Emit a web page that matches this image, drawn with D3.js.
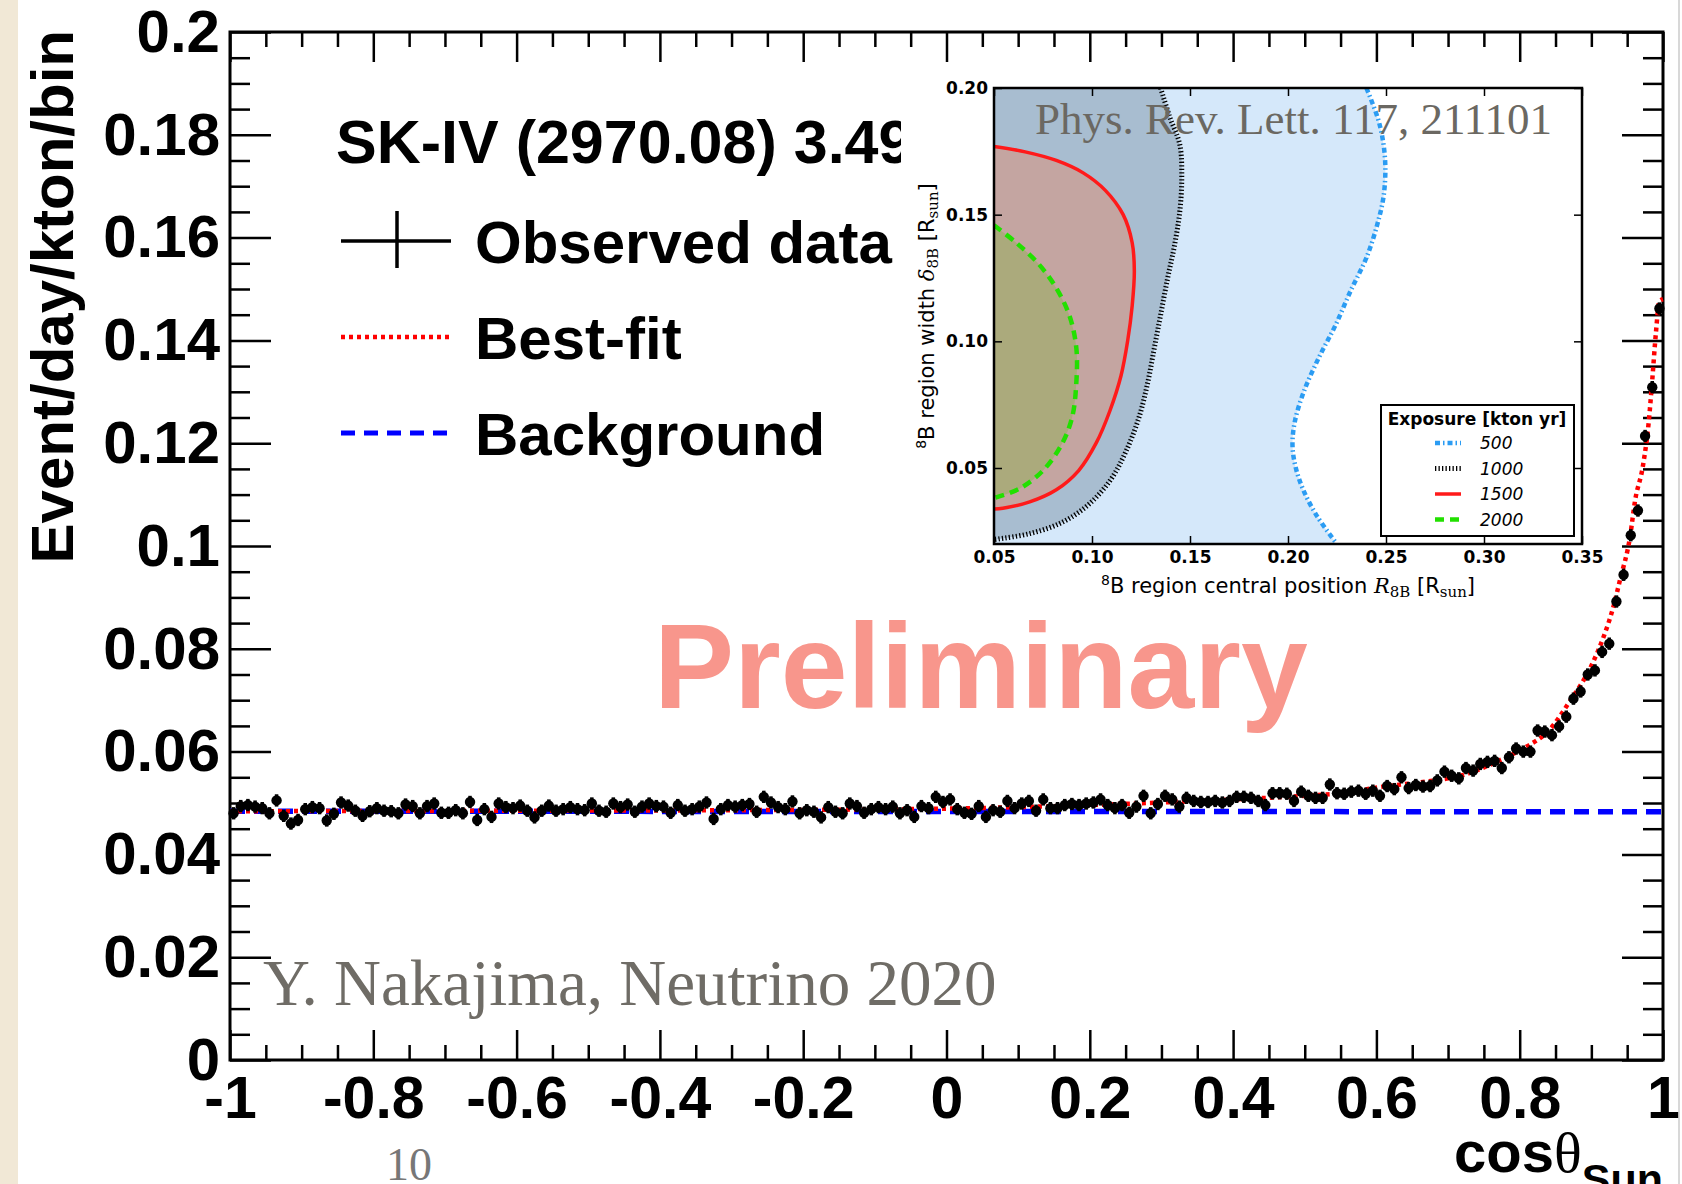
<!DOCTYPE html>
<html>
<head>
<meta charset="utf-8">
<script src="https://cdn.jsdelivr.net/npm/d3@7"></script>
<style>
body { margin: 0; background: #fff; }
</style>
</head>
<body>
<div class="chart"></div>
<script>
// event rate per 0.01 bin in cos(theta_sun), from -1 to 1
const rates = [
  0.0480, 0.0494, 0.0496, 0.0493, 0.0490, 0.0480, 0.0505, 0.0475, 0.0460, 0.0467,
  0.0488, 0.0492, 0.0490, 0.0466, 0.0479, 0.0501, 0.0495, 0.0485, 0.0475, 0.0484,
  0.0490, 0.0485, 0.0484, 0.0480, 0.0497, 0.0494, 0.0480, 0.0494, 0.0499, 0.0481,
  0.0481, 0.0486, 0.0480, 0.0502, 0.0467, 0.0488, 0.0473, 0.0499, 0.0492, 0.0490,
  0.0495, 0.0485, 0.0472, 0.0485, 0.0495, 0.0485, 0.0488, 0.0492, 0.0488, 0.0486,
  0.0499, 0.0485, 0.0483, 0.0499, 0.0492, 0.0497, 0.0483, 0.0493, 0.0499, 0.0494,
  0.0493, 0.0481, 0.0496, 0.0485, 0.0488, 0.0493, 0.0501, 0.0469, 0.0488, 0.0496,
  0.0493, 0.0496, 0.0498, 0.0483, 0.0512, 0.0501, 0.0492, 0.0488, 0.0503, 0.0480,
  0.0486, 0.0483, 0.0472, 0.0492, 0.0483, 0.0480, 0.0499, 0.0494, 0.0481, 0.0488,
  0.0492, 0.0488, 0.0493, 0.0480, 0.0486, 0.0473, 0.0494, 0.0490, 0.0512, 0.0502,
  0.0507, 0.0488, 0.0481, 0.0479, 0.0494, 0.0473, 0.0486, 0.0483, 0.0504, 0.0490,
  0.0499, 0.0504, 0.0485, 0.0507, 0.0490, 0.0490, 0.0496, 0.0498, 0.0496, 0.0499,
  0.0501, 0.0507, 0.0496, 0.0490, 0.0496, 0.0481, 0.0493, 0.0514, 0.0480, 0.0498,
  0.0514, 0.0507, 0.0493, 0.0510, 0.0504, 0.0502, 0.0502, 0.0504, 0.0501, 0.0504,
  0.0512, 0.0512, 0.0510, 0.0504, 0.0496, 0.0519, 0.0519, 0.0518, 0.0504, 0.0522,
  0.0514, 0.0510, 0.0510, 0.0536, 0.0519, 0.0518, 0.0522, 0.0524, 0.0518, 0.0524,
  0.0514, 0.0533, 0.0527, 0.0550, 0.0529, 0.0535, 0.0532, 0.0533, 0.0544, 0.0561,
  0.0553, 0.0548, 0.0568, 0.0563, 0.0576, 0.0580, 0.0582, 0.0568, 0.0589, 0.0606,
  0.0600, 0.0600, 0.0641, 0.0639, 0.0632, 0.0649, 0.0668, 0.0703, 0.0717, 0.0750,
  0.0758, 0.0794, 0.0810, 0.0892, 0.0944, 0.1021, 0.1069, 0.1214, 0.1309, 0.1462
]
const binWidth = 0.01

const bestFit = [
  [-1.0, 0.0484], [-0.6, 0.0485], [-0.3, 0.0486], [0.0, 0.0489], [0.1, 0.0492],
  [0.2, 0.0496], [0.3, 0.0501], [0.4, 0.0507], [0.5, 0.0514], [0.55, 0.0519],
  [0.61, 0.0532], [0.665, 0.0541], [0.72, 0.0554], [0.775, 0.0585], [0.81, 0.0610],
  [0.84, 0.0640], [0.87, 0.0698], [0.9, 0.0767], [0.917, 0.0823], [0.93, 0.0878],
  [0.94, 0.0934], [0.954, 0.1018], [0.961, 0.1088], [0.972, 0.1156], [0.98, 0.1240],
  [0.985, 0.1323], [0.99, 0.1413], [0.995, 0.1476], [1.0, 0.1480]
]
const background = [[-1.0, 0.0484], [1.0, 0.0483]]

const yTicks = [0, 0.02, 0.04, 0.06, 0.08, 0.1, 0.12, 0.14, 0.16, 0.18, 0.2]
const yTickLabels = ["0", "0.02", "0.04", "0.06", "0.08", "0.1", "0.12", "0.14", "0.16", "0.18", "0.2"]
const xTicks = [-1, -0.8, -0.6, -0.4, -0.2, 0, 0.2, 0.4, 0.6, 0.8, 1]
const xTickLabels = ["-1", "-0.8", "-0.6", "-0.4", "-0.2", "0", "0.2", "0.4", "0.6", "0.8", "1"]

// inset: 8B production region sensitivity contours
const insetXTicks = [0.05, 0.10, 0.15, 0.20, 0.25, 0.30, 0.35]
const insetXLabels = ["0.05", "0.10", "0.15", "0.20", "0.25", "0.30", "0.35"]
const insetYTicks = [0.05, 0.10, 0.15, 0.20]
const insetYLabels = ["0.05", "0.10", "0.15", "0.20"]
const exposures = ["500", "1000", "1500", "2000"]

const contour500 = [[0.240, 0.200], [0.2466, 0.186], [0.2495, 0.172], [0.2489, 0.158], [0.2455, 0.146],
  [0.240, 0.133], [0.232, 0.120], [0.224, 0.106], [0.216, 0.094], [0.208, 0.080], [0.2034, 0.068],
  [0.2023, 0.0587], [0.204, 0.050], [0.208, 0.041], [0.2148, 0.031], [0.224, 0.021]]
const contour1000 = [[0.135, 0.200], [0.1396, 0.1887], [0.1448, 0.1776], [0.1458, 0.165], [0.1448, 0.1513],
  [0.142, 0.1375], [0.1386, 0.125], [0.1352, 0.1112], [0.1318, 0.0974], [0.1284, 0.0836], [0.1239, 0.0698],
  [0.117, 0.056], [0.1091, 0.0449], [0.0977, 0.0352], [0.0841, 0.0283], [0.0682, 0.0241], [0.0523, 0.022], [0.05, 0.0217]]
const contour1500 = [[0.05, 0.1769], [0.0659, 0.1748], [0.0818, 0.1714], [0.0955, 0.1665], [0.1068, 0.1596],
  [0.1159, 0.15], [0.1205, 0.1389], [0.1216, 0.1278], [0.1205, 0.114], [0.1182, 0.1002], [0.1148, 0.0864],
  [0.1091, 0.0725], [0.1023, 0.0601], [0.0932, 0.049], [0.0818, 0.0414], [0.0682, 0.0366], [0.0545, 0.0341], [0.05, 0.0338]]
const contour2000 = [[0.05, 0.1458], [0.0614, 0.1389], [0.0727, 0.1306], [0.0818, 0.121], [0.0886, 0.1099],
  [0.092, 0.0974], [0.092, 0.0836], [0.0898, 0.0698], [0.0841, 0.0587], [0.075, 0.049], [0.0636, 0.0421],
  [0.0523, 0.0387], [0.05, 0.0382]]

const SANS = "'Liberation Sans', Arial, sans-serif"
const SERIF = "'Liberation Serif', 'Times New Roman', serif"
const DJ = "'DejaVu Sans', sans-serif"
const DJSERIF = "'DejaVu Serif', serif"

var width = 1682, height = 1184
var pLeft = 230, pRight = 1663, pTop = 32, pBottom = 1060

var svg = d3.select(".chart").append("svg")
    .attr("width", width)
    .attr("height", height)
    .attr("font-family", SANS)

svg.append("rect").attr("x", 0).attr("y", 0).attr("width", 18).attr("height", height).attr("fill", "#f1e8d6")
svg.append("line").attr("x1", 1679).attr("x2", 1679).attr("y1", 0).attr("y2", height)
    .attr("stroke", "#d8d8d8").attr("stroke-width", 2)

var x = d3.scaleLinear().domain([-1, 1]).range([pLeft, pRight])
var y = d3.scaleLinear().domain([0, 0.2]).range([pBottom, pTop])

var xMinor = d3.range(-1, 1.0001, 0.05).filter(v => Math.abs(Math.round(v * 5) - v * 5) > 1e-6)
var yMinor = d3.range(0, 0.2001, 0.005).filter(v => Math.abs(Math.round(v * 50) - v * 50) > 1e-6)

var styleAxis = (g, size) => {
  g.select(".domain").remove()
  g.selectAll("line").attr("stroke", "#000").attr("stroke-width", 2.5)
  g.selectAll("text").attr("font-size", size).attr("font-weight", "bold")
    .attr("font-family", SANS).attr("fill", "#000")
}

svg.append("g").attr("transform", "translate(" + pLeft + ",0)")
  .call(d3.axisLeft(y).tickValues(yTicks).tickFormat((d, i) => yTickLabels[i]).tickSize(-41).tickSizeOuter(0).tickPadding(10))
  .call(g => styleAxis(g, 60))
svg.append("g").attr("transform", "translate(" + pLeft + ",0)")
  .call(d3.axisLeft(y).tickValues(yMinor).tickFormat("").tickSize(-20).tickSizeOuter(0))
  .call(g => styleAxis(g, 0))
svg.append("g").attr("transform", "translate(" + pRight + ",0)")
  .call(d3.axisRight(y).tickValues(yTicks).tickFormat("").tickSize(-41).tickSizeOuter(0))
  .call(g => styleAxis(g, 0))
svg.append("g").attr("transform", "translate(" + pRight + ",0)")
  .call(d3.axisRight(y).tickValues(yMinor).tickFormat("").tickSize(-20).tickSizeOuter(0))
  .call(g => styleAxis(g, 0))

svg.append("g").attr("transform", "translate(0," + pBottom + ")")
  .call(d3.axisBottom(x).tickValues(xTicks).tickFormat((d, i) => xTickLabels[i]).tickSize(-30).tickSizeOuter(0).tickPadding(16))
  .call(g => styleAxis(g, 59))
svg.append("g").attr("transform", "translate(0," + pBottom + ")")
  .call(d3.axisBottom(x).tickValues(xMinor).tickFormat("").tickSize(-15).tickSizeOuter(0))
  .call(g => styleAxis(g, 0))
svg.append("g").attr("transform", "translate(0," + pTop + ")")
  .call(d3.axisTop(x).tickValues(xTicks).tickFormat("").tickSize(-30).tickSizeOuter(0))
  .call(g => styleAxis(g, 0))
svg.append("g").attr("transform", "translate(0," + pTop + ")")
  .call(d3.axisTop(x).tickValues(xMinor).tickFormat("").tickSize(-15).tickSizeOuter(0))
  .call(g => styleAxis(g, 0))

svg.append("rect")
  .attr("x", pLeft).attr("y", pTop).attr("width", pRight - pLeft).attr("height", pBottom - pTop)
  .attr("fill", "none").attr("stroke", "#000").attr("stroke-width", 3)

// axis titles
svg.append("text")
  .attr("transform", "translate(73,30) rotate(-90)")
  .attr("text-anchor", "end").attr("font-size", 60).attr("font-weight", "bold")
  .text("Event/day/kton/bin")

var xTitle = svg.append("text").attr("x", pRight).attr("y", 1172).attr("text-anchor", "end")
xTitle.append("tspan").attr("font-size", 58).attr("font-weight", "bold").text("cos")
xTitle.append("tspan").attr("font-size", 58).attr("font-family", SERIF).text("θ")
xTitle.append("tspan").attr("font-size", 43).attr("font-weight", "bold").attr("dy", 22).text("Sun")

// curves
var line = d3.line().x(d => x(d[0])).y(d => y(d[1]))

svg.append("path").datum(background)
  .attr("d", line).attr("fill", "none").attr("stroke", "#0000ff")
  .attr("stroke-width", 5.5).attr("stroke-dasharray", "15 9")

svg.append("path").datum(bestFit)
  .attr("d", line.curve(d3.curveMonotoneX)).attr("fill", "none").attr("stroke", "#ff0000")
  .attr("stroke-width", 4.5).attr("stroke-dasharray", "4 4")

var errHalf = 0.0012
var pts = svg.append("g")
pts.selectAll(".err").data(rates).enter().append("line")
  .attr("x1", (d, i) => x(-1 + binWidth * (i + 0.5)))
  .attr("x2", (d, i) => x(-1 + binWidth * (i + 0.5)))
  .attr("y1", d => y(d - errHalf))
  .attr("y2", d => y(d + errHalf))
  .attr("stroke", "#000").attr("stroke-width", 3.5)
pts.selectAll(".dot").data(rates).enter().append("circle")
  .attr("cx", (d, i) => x(-1 + binWidth * (i + 0.5)))
  .attr("cy", d => y(d))
  .attr("r", 5.2).attr("fill", "#000")

// legend
svg.append("defs").append("clipPath").attr("id", "legClip")
  .append("rect").attr("x", 0).attr("y", 0).attr("width", 901).attr("height", 300)
svg.append("text").attr("x", 336).attr("y", 163).attr("clip-path", "url(#legClip)")
  .attr("font-size", 61).attr("font-weight", "bold").text("SK-IV (2970.08) 3.49-19.49 MeV")

svg.append("line").attr("x1", 341).attr("x2", 451).attr("y1", 241).attr("y2", 241)
  .attr("stroke", "#000").attr("stroke-width", 3.5)
svg.append("line").attr("x1", 397).attr("x2", 397).attr("y1", 211).attr("y2", 268)
  .attr("stroke", "#000").attr("stroke-width", 3.5)
svg.append("line").attr("x1", 341).attr("x2", 451).attr("y1", 337).attr("y2", 337)
  .attr("stroke", "#ff0000").attr("stroke-width", 4.5).attr("stroke-dasharray", "4 4")
svg.append("line").attr("x1", 341).attr("x2", 449).attr("y1", 433).attr("y2", 433)
  .attr("stroke", "#0000ff").attr("stroke-width", 5).attr("stroke-dasharray", "14 9")

svg.selectAll(".legtxt").data(["Observed data", "Best-fit", "Background"]).enter().append("text")
  .attr("x", 475).attr("y", (d, i) => 263 + i * 96)
  .attr("font-size", 60).attr("font-weight", "bold").text(d => d)

// watermark texts
svg.append("text").attr("x", 654).attr("y", 708)
  .attr("font-size", 120).attr("font-weight", "bold").attr("fill", "#f8968c").text("Preliminary")
svg.append("text").attr("x", 263).attr("y", 1005)
  .attr("font-family", SERIF).attr("font-size", 65).attr("fill", "#6f6c66")
  .text("Y. Nakajima, Neutrino 2020")
svg.append("text").attr("x", 386).attr("y", 1180)
  .attr("font-family", SERIF).attr("font-size", 46).attr("fill", "#777")
  .text("10")

// ---- inset ----
var iL = 994, iR = 1582, iT = 88, iB = 544
var ix = d3.scaleLinear().domain([0.05, 0.35]).range([iL, iR])
var iy = d3.scaleLinear().domain([0.02, 0.20]).range([iB, iT])

var inset = svg.append("g")
inset.append("defs").append("clipPath").attr("id", "insetClip")
  .append("rect").attr("x", iL).attr("y", iT).attr("width", iR - iL).attr("height", iB - iT)

var cLine = d3.line().x(d => ix(d[0])).y(d => iy(d[1])).curve(d3.curveCatmullRom)
var pt = (a, b) => ix(a) + "," + iy(b)

var plot = inset.append("g").attr("clip-path", "url(#insetClip)")
var last500 = contour500[contour500.length - 1]
plot.append("path")
  .attr("d", "M" + pt(0.05, 0.02) + "L" + pt(0.05, 0.20) + "L" + cLine(contour500).slice(1) + "L" + pt(last500[0], 0.02) + "Z")
  .attr("fill", "#d5e8fa")
plot.append("path")
  .attr("d", "M" + pt(0.05, 0.20) + "L" + cLine(contour1000).slice(1) + "Z")
  .attr("fill", "#a8bdd0")
plot.append("path").attr("d", cLine(contour1500) + "Z").attr("fill", "#c4a5a1")
plot.append("path").attr("d", cLine(contour2000) + "Z").attr("fill", "#abaa7c")

var contourStyles = [
  { data: contour500, color: "#2b9cf3", w: 4.5, dash: "5 3 1.5 3" },
  { data: contour1000, color: "#000", w: 5, dash: "1.3 2.2" },
  { data: contour1500, color: "#ff1a1a", w: 3.5, dash: null },
  { data: contour2000, color: "#22e000", w: 4.5, dash: "9 6" }
]
contourStyles.forEach(s => {
  plot.append("path").attr("d", cLine(s.data)).attr("fill", "none")
    .attr("stroke", s.color).attr("stroke-width", s.w).attr("stroke-dasharray", s.dash)
})

var styleInset = g => {
  g.select(".domain").remove()
  g.selectAll("line").attr("stroke", "#000").attr("stroke-width", 1.5)
  g.selectAll("text").attr("font-size", 17).attr("font-weight", "bold")
    .attr("font-family", DJ).attr("fill", "#000")
}
inset.append("g").attr("transform", "translate(0," + iB + ")")
  .call(d3.axisBottom(ix).tickValues(insetXTicks).tickFormat((d, i) => insetXLabels[i]).tickSize(-8).tickSizeOuter(0).tickPadding(7))
  .call(styleInset)
inset.append("g").attr("transform", "translate(0," + iT + ")")
  .call(d3.axisTop(ix).tickValues(insetXTicks).tickFormat("").tickSize(-8).tickSizeOuter(0))
  .call(styleInset)
inset.append("g").attr("transform", "translate(" + iL + ",0)")
  .call(d3.axisLeft(iy).tickValues(insetYTicks).tickFormat((d, i) => insetYLabels[i]).tickSize(-8).tickSizeOuter(0).tickPadding(6))
  .call(styleInset)
inset.append("g").attr("transform", "translate(" + iR + ",0)")
  .call(d3.axisRight(iy).tickValues(insetYTicks).tickFormat("").tickSize(-8).tickSizeOuter(0))
  .call(styleInset)

inset.append("rect").attr("x", iL).attr("y", iT).attr("width", iR - iL).attr("height", iB - iT)
  .attr("fill", "none").attr("stroke", "#000").attr("stroke-width", 2.5)

// mathtext-like labels
var richText = (sel, parts) => {
  parts.forEach(p => {
    var t = sel.append("tspan").attr("font-size", p.size || 21).text(p.t)
    if (p.dy) t.attr("dy", p.dy)
    t.attr("font-family", p.serif ? DJSERIF : DJ)
    if (p.italic) t.attr("font-style", "italic")
  })
}
var insetXLabel = inset.append("text").attr("x", (iL + iR) / 2).attr("y", 593).attr("text-anchor", "middle")
richText(insetXLabel, [
  { t: "8", size: 14, dy: -8 }, { t: "B region central position ", dy: 8 },
  { t: "R", serif: true, italic: true }, { t: "8B", serif: true, size: 15, dy: 4 },
  { t: " [R", dy: -4 }, { t: "sun", serif: true, size: 15, dy: 4 }, { t: "]", dy: -4 }
])
var insetYLabel = inset.append("text")
  .attr("transform", "translate(934," + ((iT + iB) / 2) + ") rotate(-90)").attr("text-anchor", "middle")
richText(insetYLabel, [
  { t: "8", size: 14, dy: -8 }, { t: "B region width ", dy: 8 },
  { t: "δ", serif: true, italic: true }, { t: "8B", serif: true, size: 15, dy: 4 },
  { t: " [R", dy: -4 }, { t: "sun", serif: true, size: 15, dy: 4 }, { t: "]", dy: -4 }
])

// inset legend
inset.append("rect").attr("x", 1381).attr("y", 405).attr("width", 193).attr("height", 131)
  .attr("fill", "#fff").attr("stroke", "#000").attr("stroke-width", 2)
inset.append("text").attr("x", 1477).attr("y", 425).attr("text-anchor", "middle")
  .attr("font-family", DJ).attr("font-weight", "bold").attr("font-size", 17)
  .text("Exposure [kton yr]")
contourStyles.forEach((s, i) => {
  var yy = 443 + i * 25.5
  inset.append("line").attr("x1", 1435).attr("x2", 1461).attr("y1", yy).attr("y2", yy)
    .attr("stroke", s.color).attr("stroke-width", s.w).attr("stroke-dasharray", s.dash)
  inset.append("text").attr("x", 1480).attr("y", yy + 6)
    .attr("font-family", DJ).attr("font-style", "italic").attr("font-size", 17)
    .text(exposures[i])
})

inset.append("text").attr("x", 1035).attr("y", 134)
  .attr("font-family", SERIF).attr("font-size", 45).attr("fill", "#6b6862")
  .text("Phys. Rev. Lett. 117, 211101")
</script>
</body>
</html>
